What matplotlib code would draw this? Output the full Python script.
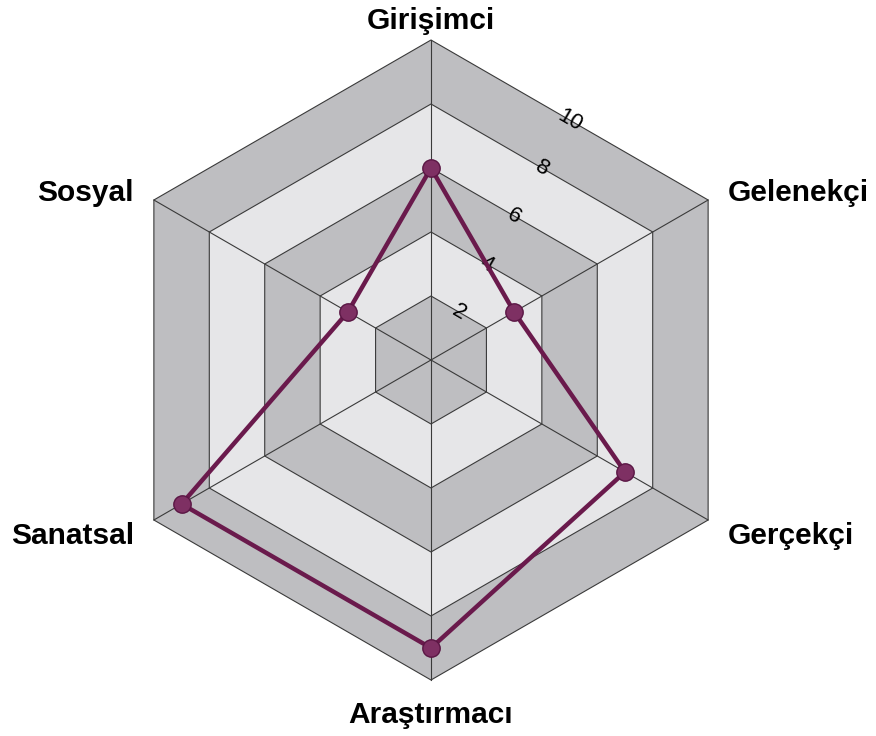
import numpy as np
import matplotlib.pyplot as plt

# categories (clockwise from top) and scores
categories = ['Girişimci', 'Gelenekçi', 'Gerçekçi', 'Araştırmacı', 'Sanatsal', 'Sosyal']
values = [6, 3, 7, 9, 9, 3]
rings = [2, 4, 6, 8, 10]
tick_labels = ['2', '4', '6', '8', '10']

dark = '#bebec1'
light = '#e6e6e8'
line_col = '#6a1a4c'

n = len(categories)
ang = np.deg2rad(90 - 60 * np.arange(n))
cx, cy = np.cos(ang), np.sin(ang)

fig = plt.figure(figsize=(8.76, 7.36), dpi=100)
ax = fig.add_axes([0, 0, 1, 1])
ax.set_xlim(-431 / 32, 445 / 32)
ax.set_ylim(-376 / 32, 360 / 32)
ax.set_aspect('equal')
ax.axis('off')

# rings, outer first, alternating shades
for i, r in enumerate(rings[::-1]):
    col = dark if i % 2 == 0 else light
    ax.fill(r * cx, r * cy, facecolor=col, edgecolor='#3a3a3a', lw=0.8, zorder=1)

# spokes
rmax = max(rings)
for x, y in zip(cx, cy):
    ax.plot([0, rmax * x], [0, rmax * y], color='#3a3a3a', lw=0.8, zorder=2)

# radial tick labels along the 60 degree line
t = np.deg2rad(60)
for r, lab in zip(rings, tick_labels):
    d = r * np.cos(np.deg2rad(30))
    ax.text(d * np.cos(t), d * np.sin(t), lab, fontsize=16, rotation=-30,
            ha='center', va='center', color='#000000', zorder=3,
            family='Liberation Sans')

# data polygon
v = np.array(values, dtype=float)
px, py = v * cx, v * cy
ax.plot(np.append(px, px[0]), np.append(py, py[0]), color=line_col, lw=3.2,
        zorder=4, solid_joinstyle='miter')
ax.plot(px, py, 'o', ms=12.5, markerfacecolor='#7e3063', markeredgecolor='#5a1644',
        markeredgewidth=1, zorder=5)

# category labels
lab_font = dict(fontsize=21.5, fontweight='bold', family='Liberation Sans', color='#000000')
for i, name in enumerate(categories):
    x, y = rmax * cx[i], rmax * cy[i]
    if abs(cx[i]) < 0.01:
        dy = 0.6 if cy[i] > 0 else -1.08
        ax.text(x, y + dy, name, ha='center', va='center', **lab_font)
    else:
        ha = 'left' if cx[i] > 0 else 'right'
        dx = 0.62 if cx[i] > 0 else -0.62
        dy = 0.22 if cy[i] > 0 else -0.5
        ax.text(x + dx, y + dy, name, ha=ha, va='center', **lab_font)

fig.savefig('out.png', dpi=100)
